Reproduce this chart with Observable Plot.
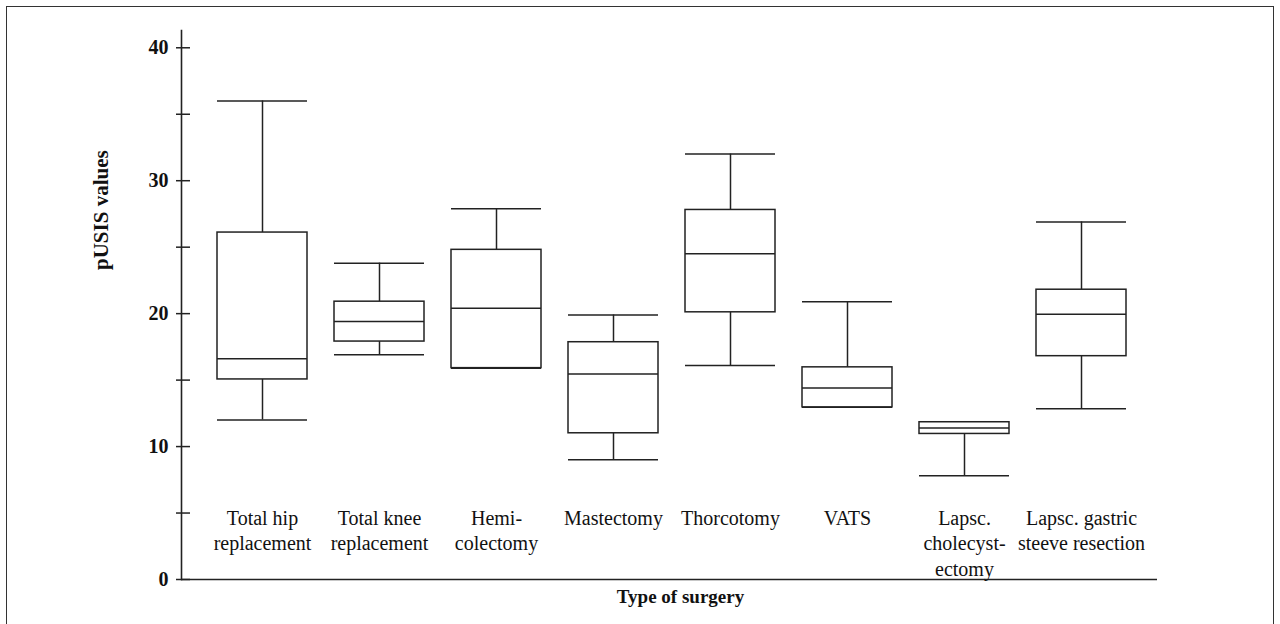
<!DOCTYPE html>
<html><head><meta charset="utf-8">
<script src="https://cdn.jsdelivr.net/npm/d3@7"></script>
<script src="https://cdn.jsdelivr.net/npm/@observablehq/plot@0.6"></script>
<style>
html,body{margin:0;padding:0;background:#fff;}
#wrap{position:relative;width:1280px;height:624px;overflow:hidden;}
#border{position:absolute;left:6px;top:6px;width:1268px;height:700px;border:1.5px solid #333;box-sizing:border-box;}
#chart{position:absolute;left:0;top:0;}
#chart svg, #chart svg text, #chart svg tspan{font-family:"Liberation Serif",serif !important;}
</style></head><body>
<div id="wrap"><div id="border"></div><div id="chart"></div></div>
<script>
const categories = ["Total hip replacement","Total knee replacement","Hemicolectomy","Mastectomy","Thorcotomy","VATS","Lapsc. cholecystectomy","Lapsc. gastric steeve resection"];
const labels = ["Total hip\nreplacement","Total knee\nreplacement","Hemi-\ncolectomy","Mastectomy","Thorcotomy","VATS","Lapsc.\ncholecyst-\nectomy","Lapsc. gastric\nsteeve resection"];
const mins    = [12.0, 16.9, 15.9,  9.0, 16.1, 12.95, 7.8, 12.85];
const q1s     = [15.05, 17.9, 15.9, 11.0, 20.1, 12.95, 10.95, 16.8];
const medians = [16.6, 19.4, 20.4, 15.45, 24.5, 14.4, 11.4, 19.95];
const q3s     = [26.1, 20.9, 24.8, 17.85, 27.8, 15.96, 11.83, 21.8];
const maxs    = [36.0, 23.8, 27.9, 19.9, 32.0, 20.9, 11.83, 26.9];
const yTicks  = [0, 5, 10, 15, 20, 25, 30, 35, 40];
const yTitle = "pUSIS values";
const xTitle = "Type of surgery";

const rows = categories.map((c, i) => ({name: c, label: labels[i], min: mins[i], q1: q1s[i], median: medians[i], q3: q3s[i], max: maxs[i]}));
const ink = "#222";
const serif = "Liberation Serif";

const chart = Plot.plot({
  width: 1280, height: 624,
  marginLeft: 181, marginRight: 123, marginTop: 30, marginBottom: 45,
  style: {fontFamily: "Liberation Serif, serif", background: "transparent", color: "#111"},
  x: {type: "band", domain: categories, paddingInner: 0.231, paddingOuter: 0, insetLeft: 35, insetRight: 31, axis: null},
  y: {domain: [0, 41.3], axis: null},
  marks: [
    Plot.frame({anchor: "left", stroke: ink, strokeWidth: 1.6}),
    Plot.ruleY([0], {stroke: ink, strokeWidth: 1.6}),
    Plot.axisY(yTicks, {tickSize: 14, dx: 9, tickPadding: 8, stroke: ink, strokeWidth: 1.5,
      tickFormat: d => d % 10 === 0 ? String(d) : "", fontSize: 20, fontWeight: "bold", fontFamily: serif, label: null}),
    Plot.ruleX(rows, {x: "name", y1: "q3", y2: "max", stroke: ink, strokeWidth: 1.5}),
    Plot.ruleX(rows, {x: "name", y1: "min", y2: "q1", stroke: ink, strokeWidth: 1.5}),
    Plot.tickY(rows, {x: "name", y: "max", stroke: ink, strokeWidth: 1.5}),
    Plot.tickY(rows, {x: "name", y: "min", stroke: ink, strokeWidth: 1.5}),
    Plot.barY(rows, {x: "name", y1: "q1", y2: "q3", fill: "white", stroke: ink, strokeWidth: 1.5}),
    Plot.tickY(rows, {x: "name", y: "median", stroke: ink, strokeWidth: 1.5}),
    Plot.text(rows, {x: "name", text: "label", frameAnchor: "bottom", lineAnchor: "top", dy: -73, fontSize: 20, fontFamily: serif, lineHeight: 1.275, fill: "#111"}),
    Plot.text([yTitle], {frameAnchor: "left", rotate: -90, dx: -80, dy: -35, fontSize: 21, fontWeight: "bold", fontFamily: serif, fill: "#111"}),
    Plot.text([xTitle], {frameAnchor: "bottom", dx: 11, dy: 23, fontSize: 19, fontWeight: "bold", fontFamily: serif, fill: "#111"})
  ]
});
document.getElementById("chart").appendChild(chart);
</script>
</body></html>
